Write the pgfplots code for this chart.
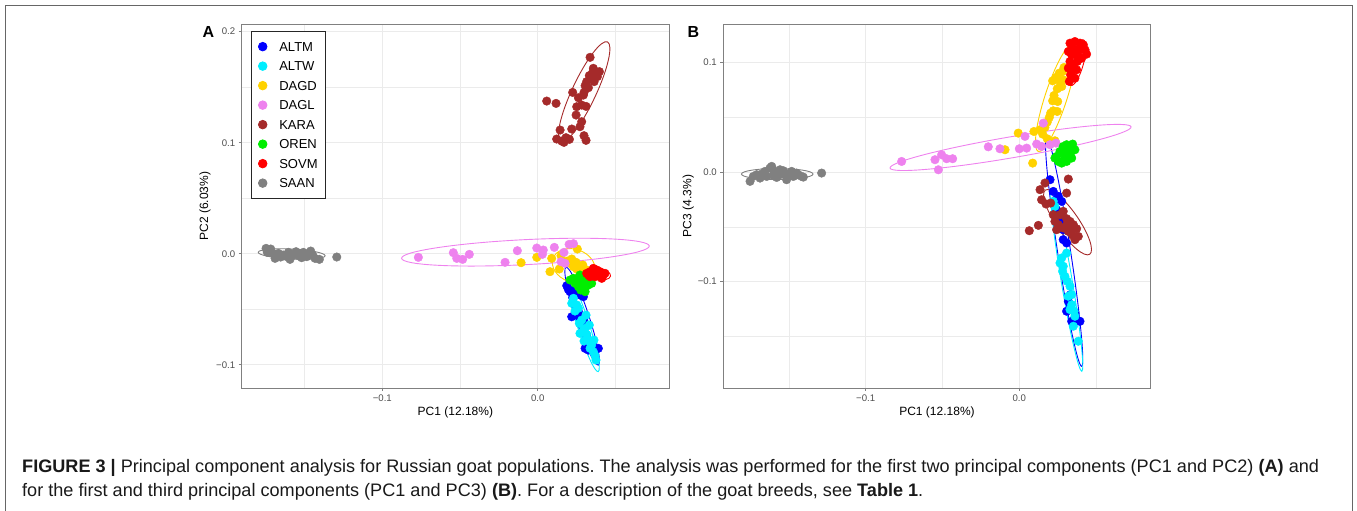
\documentclass[border=0pt]{standalone}
\usepackage{fontspec}
\setmainfont{Liberation Sans}
\usepackage{pgfplots}
\pgfplotsset{compat=1.18}
\frenchspacing
\definecolor{altm}{RGB}{0,0,255}
\definecolor{altw}{RGB}{0,238,255}
\definecolor{dagd}{RGB}{255,210,0}
\definecolor{dagl}{RGB}{238,130,238}
\definecolor{kara}{RGB}{165,42,42}
\definecolor{oren}{RGB}{0,238,0}
\definecolor{sovm}{RGB}{255,0,0}
\definecolor{saan}{RGB}{128,128,128}
\definecolor{ticktext}{RGB}{77,77,77}
\definecolor{gridc}{RGB}{235,235,235}
\tikzset{el/.style={line width=0.9pt}}
\pgfplotsset{
  pcastyle/.style={
    scale only axis, height=364pt,
    axis line style={black!50, line width=0.8pt},
    tick style={black!50, line width=0.6pt},
    major tick length=3pt, minor tick length=0pt,
    tick align=outside, xtick pos=bottom, ytick pos=left,
    grid=both,
    major grid style={gridc, line width=1.1pt},
    minor grid style={gridc, line width=0.55pt},
    ticklabel style={font=\fontsize{9.6}{9.6}\selectfont, text=ticktext},
    xtick={-0.1,0}, xticklabels={−0.1,0.0},
    minor xtick={-0.15,-0.05,0.05},
    label style={font=\fontsize{12}{12}\selectfont},
    xlabel style={at={(axis description cs:0.5,0)}, anchor=base, yshift=-28pt},
    every axis plot/.append style={only marks, mark=*, mark size=4.3pt},
    clip=true,
  },
}

\begin{document}
\begin{tikzpicture}[x=1pt,y=1pt]
\path[use as bounding box] (0,0) rectangle (1357,511);
\draw[black!60, line width=1pt] (5,-5) -- (5,505) -- (1352,505) -- (1352,-5);

% ---------------- Panel A ----------------
\begin{axis}[pcastyle, at={(241.7pt,123pt)}, anchor=south west, width=427.3pt,
  xmin=-0.19048, xmax=0.08449, ymin=-0.12099, ymax=0.20694,
  ytick={-0.1,0,0.1,0.2}, yticklabels={−0.1,0.0,0.1,0.2},
  minor ytick={-0.05,0.05,0.15},
  xlabel={PC1 (12.18\%)}, ylabel={PC2 (6.03\%)},
  ylabel style={at={(axis description cs:-0.0859,0.5)}, anchor=center},
  legend cell align=left,
  legend image code/.code={\draw[#1] plot coordinates {(0pt,0pt)};},
  legend style={at={(0.0211,0.9808)}, anchor=north west, draw=black!85, line width=0.8pt,
    fill=white, font=\fontsize{13}{13}\selectfont, inner xsep=7.3pt, inner ysep=7.6pt,
    row sep=4.2pt, column sep=12.3pt,
    nodes={inner sep=0pt, text height=12.3pt, text depth=3pt}},
]
\addplot[color=altm] table {
0.0197 -0.0321
0.0230 -0.0327
0.0208 -0.0342
0.0255 -0.0357
0.0272 -0.0372
0.0294 -0.0387
0.0225 -0.0396
0.0240 -0.0462
0.0219 -0.0568
0.0251 -0.0553
0.0272 -0.0583
0.0262 -0.0523
0.0294 -0.0598
0.0305 -0.0853
0.0326 -0.0868
0.0390 -0.0853
0.0358 -0.0838
0.0315 -0.0733
0.0283 -0.0643
0.0187 -0.0288
};
\addlegendentry{ALTM}
\addplot[color=altw] table {
0.0230 -0.0402
0.0219 -0.0447
0.0251 -0.0462
0.0240 -0.0517
0.0268 -0.0628
0.0294 -0.0688
0.0315 -0.0727
0.0326 -0.0778
0.0347 -0.0823
0.0358 -0.0883
0.0369 -0.0919
0.0337 -0.0853
0.0305 -0.0673
0.0283 -0.0598
0.0262 -0.0492
0.0272 -0.0718
0.0298 -0.0787
0.0362 -0.0778
0.0375 -0.0958
0.0332 -0.0643
0.0311 -0.0553
};
\addlegendentry{ALTW}
\addplot[color=dagd] table {
-0.0107 -0.0081
-0.0006 -0.0033
0.0079 -0.0162
0.0090 -0.0042
0.0139 -0.0138
0.0150 -0.0018
0.0255 0.0042
0.0208 -0.0087
0.0230 -0.0117
0.0251 -0.0138
0.0277 -0.0168
0.0290 -0.0102
0.0219 -0.0048
0.0247 -0.0078
0.0191 -0.0066
0.0268 -0.0198
0.0305 -0.0210
0.0315 -0.0147
};
\addlegendentry{DAGD}
\addplot[color=dagl] table {
-0.0768 -0.0033
-0.0543 0.0009
-0.0521 -0.0042
-0.0483 -0.0051
-0.0440 -0.0006
-0.0210 -0.0078
-0.0131 0.0027
-0.0006 0.0051
0.0030 -0.0006
0.0036 0.0033
0.0107 0.0057
0.0150 -0.0072
0.0176 -0.0087
0.0202 0.0084
0.0230 0.0090
0.0169 0.0012
};
\addlegendentry{DAGL}
\addplot[color=kara] table {
0.0058 0.1375
0.0118 0.1354
0.0337 0.1769
0.0358 0.1670
0.0369 0.1625
0.0347 0.1580
0.0315 0.1550
0.0305 0.1514
0.0326 0.1495
0.0363 0.1550
0.0384 0.1595
0.0332 0.1604
0.0294 0.1429
0.0225 0.1453
0.0251 0.1324
0.0283 0.1339
0.0311 0.1327
0.0262 0.1405
0.0283 0.1189
0.0272 0.1144
0.0298 0.1063
0.0311 0.1021
0.0144 0.1114
0.0122 0.1033
0.0154 0.1015
0.0182 0.1045
0.0204 0.1030
0.0219 0.1123
0.0169 0.1003
0.0298 0.1453
0.0354 0.1634
0.0397 0.1640
0.0247 0.1249
};
\addlegendentry{KARA}
\addplot[color=oren] table {
0.0230 -0.0222
0.0251 -0.0252
0.0272 -0.0192
0.0283 -0.0282
0.0305 -0.0312
0.0315 -0.0252
0.0337 -0.0222
0.0262 -0.0297
0.0294 -0.0237
0.0240 -0.0267
0.0326 -0.0282
0.0277 -0.0327
0.0305 -0.0342
0.0347 -0.0267
0.0208 -0.0237
0.0290 -0.0207
};
\addlegendentry{OREN}
\addplot[color=sovm] table {
0.0315 -0.0177
0.0337 -0.0162
0.0358 -0.0132
0.0380 -0.0147
0.0401 -0.0162
0.0423 -0.0192
0.0412 -0.0222
0.0369 -0.0207
0.0337 -0.0207
0.0390 -0.0186
0.0433 -0.0177
0.0347 -0.0186
0.0375 -0.0168
0.0405 -0.0198
0.0326 -0.0192
};
\addlegendentry{SOVM}
\addplot[color=saan] table {
-0.1748 0.0048
-0.1718 0.0042
-0.1740 0.0012
-0.1690 -0.0042
-0.1669 0.0003
-0.1637 -0.0012
-0.1604 0.0012
-0.1594 -0.0051
-0.1572 -0.0006
-0.1540 -0.0018
-0.1508 0.0012
-0.1486 -0.0027
-0.1461 0.0024
-0.1448 -0.0012
-0.1433 -0.0042
-0.1405 -0.0051
-0.1293 -0.0030
-0.1701 0.0000
-0.1654 -0.0030
-0.1555 0.0018
-0.1519 -0.0036
-0.1619 -0.0024
-0.1583 -0.0018
-0.1476 0.0000
-0.1497 -0.0012
-0.1680 -0.0018
};
\addlegendentry{SAAN}
% ellipses
\draw[el, altm, rotate around={-71.7:(axis cs:0.0286,-0.0563)}] (axis cs:0.0286,-0.0563) ellipse [x radius=51.5pt, y radius=6.5pt];
\draw[el, altw, rotate around={-72.2:(axis cs:0.0293,-0.0642)}] (axis cs:0.0293,-0.0642) ellipse [x radius=49pt, y radius=6pt];
\draw[el, dagd, rotate around={-20:(axis cs:0.0232,-0.0109)}] (axis cs:0.0232,-0.0109) ellipse [x radius=22pt, y radius=16.5pt];
\draw[el, dagl, rotate around={2.84:(axis cs:-0.0079,0.0014)}] (axis cs:-0.0079,0.0014) ellipse [x radius=124pt, y radius=12.5pt];
\draw[el, kara, rotate around={64.9:(axis cs:0.0299,0.1459)}] (axis cs:0.0299,0.1459) ellipse [x radius=55pt, y radius=12pt];
\draw[el, oren] (axis cs:0.029,-0.027) ellipse [x radius=9pt, y radius=7pt];
\draw[el, sovm, rotate around={-10:(axis cs:0.038,-0.018)}] (axis cs:0.038,-0.018) ellipse [x radius=14pt, y radius=6pt];
\draw[el, saan, rotate around={-3:(axis cs:-0.1583,-0.0003)}] (axis cs:-0.1583,-0.0003) ellipse [x radius=33.5pt, y radius=5pt];
\end{axis}

% ---------------- Panel B ----------------
\begin{axis}[pcastyle, at={(723.3pt,123pt)}, anchor=south west, width=427.4pt,
  xmin=-0.19271, xmax=0.08555, ymin=-0.19735, ymax=0.13534,
  ytick={-0.1,0,0.1}, yticklabels={−0.1,0.0,0.1},
  minor ytick={-0.15,-0.05,0.05},
  xlabel={PC1 (12.18\%)}, ylabel={PC3 (4.3\%)},
  ylabel style={at={(axis description cs:-0.0819,0.5)}, anchor=center},
]
\addplot[color=altm] table {
0.0200 -0.0070
0.0221 -0.0177
0.0254 -0.0222
0.0276 -0.0268
0.0243 -0.0344
0.0265 -0.0435
0.0286 -0.0527
0.0286 -0.0618
0.0308 -0.0648
0.0308 -0.1272
0.0341 -0.1364
0.0395 -0.1364
0.0362 -0.1288
0.0319 -0.1181
0.0334 -0.1120
0.0304 -0.0451
0.0239 -0.0253
0.0378 -0.1358
};
\addplot[color=altw] table {
0.0221 -0.0268
0.0232 -0.0314
0.0276 -0.0785
0.0308 -0.0740
0.0286 -0.0861
0.0297 -0.0953
0.0330 -0.1044
0.0319 -0.1135
0.0341 -0.1212
0.0362 -0.1318
0.0352 -0.1409
0.0384 -0.1546
0.0330 -0.1257
0.0341 -0.1120
0.0265 -0.0831
0.0312 -0.0998
0.0282 -0.0907
0.0356 -0.1272
};
\addplot[color=dagd] table {
-0.0093 0.0204
-0.0007 0.0356
0.0087 0.0082
0.0095 0.0371
0.0135 0.0387
0.0167 0.0408
0.0182 0.0457
0.0195 0.0499
0.0204 0.0539
0.0221 0.0560
0.0247 0.0554
0.0250 0.0645
0.0217 0.0651
0.0226 0.0700
0.0247 0.0761
0.0265 0.0822
0.0217 0.0834
0.0239 0.0865
0.0260 0.0904
0.0282 0.0919
0.0286 0.0843
0.0276 0.0782
0.0291 0.0956
0.0232 0.0286
0.0182 0.0304
0.0152 0.0347
};
\addplot[color=dagl] table {
-0.0766 0.0097
-0.0549 0.0113
-0.0506 0.0158
-0.0527 0.0021
-0.0473 0.0122
-0.0434 0.0122
-0.0202 0.0231
-0.0126 0.0213
0.0000 0.0213
0.0048 0.0219
0.0037 0.0326
0.0113 0.0256
0.0156 0.0447
0.0145 0.0234
0.0200 0.0250
0.0239 0.0265
};
\addplot[color=kara] table {
0.0065 -0.0536
0.0124 -0.0487
0.0167 -0.0100
0.0319 -0.0064
0.0135 -0.0161
0.0308 -0.0192
0.0145 -0.0253
0.0174 -0.0292
0.0204 -0.0283
0.0221 -0.0390
0.0265 -0.0390
0.0286 -0.0359
0.0308 -0.0426
0.0330 -0.0451
0.0352 -0.0481
0.0373 -0.0518
0.0384 -0.0588
0.0347 -0.0578
0.0362 -0.0618
0.0319 -0.0542
0.0286 -0.0511
0.0254 -0.0481
0.0232 -0.0451
0.0308 -0.0487
0.0341 -0.0527
0.0243 -0.0527
};
\addplot[color=oren] table {
0.0243 0.0143
0.0265 0.0189
0.0286 0.0234
0.0308 0.0250
0.0347 0.0256
0.0362 0.0204
0.0330 0.0158
0.0297 0.0128
0.0276 0.0082
0.0308 0.0097
0.0341 0.0128
0.0254 0.0097
0.0319 0.0204
0.0286 0.0174
0.0232 0.0128
};
\addplot[color=sovm] table {
0.0330 0.1178
0.0362 0.1193
0.0395 0.1178
0.0417 0.1163
0.0438 0.1078
0.0319 0.1102
0.0341 0.1072
0.0384 0.1102
0.0406 0.1041
0.0330 0.1011
0.0352 0.0965
0.0373 0.0935
0.0334 0.0889
0.0362 0.0858
0.0326 0.0828
0.0395 0.1132
0.0347 0.1132
0.0378 0.1011
0.0319 0.0950
0.0369 0.1072
0.0428 0.1117
0.0341 0.0919
};
\addplot[color=saan] table {
-0.1753 -0.0085
-0.1710 -0.0024
-0.1678 -0.0018
-0.1645 -0.0040
-0.1623 0.0037
-0.1612 0.0052
-0.1591 0.0006
-0.1558 -0.0024
-0.1536 0.0012
-0.1515 -0.0070
-0.1493 -0.0009
-0.1471 -0.0040
-0.1450 -0.0009
-0.1417 -0.0040
-0.1406 -0.0046
-0.1287 -0.0009
-0.1732 -0.0040
-0.1656 0.0006
-0.1580 -0.0049
-0.1526 -0.0018
-0.1482 0.0006
-0.1602 -0.0030
-0.1688 -0.0055
-0.1439 -0.0024
-0.1558 0.0021
};
% ellipses
\draw[el, altm, rotate around={-81.3:(axis cs:0.0292,-0.0732)}] (axis cs:0.0292,-0.0732) ellipse [x radius=115.5pt, y radius=6.5pt];
\draw[el, altw, rotate around={-80.5:(axis cs:0.0309,-0.0999)}] (axis cs:0.0309,-0.0999) ellipse [x radius=91.2pt, y radius=5.5pt];
\draw[el, dagd, rotate around={71.95:(axis cs:0.0238,0.0679)}] (axis cs:0.0238,0.0679) ellipse [x radius=56.5pt, y radius=11pt];
\draw[el, dagl, rotate around={9.7:(axis cs:-0.0057,0.0225)}] (axis cs:-0.0057,0.0225) ellipse [x radius=122.3pt, y radius=10.5pt];
\draw[el, kara, rotate around={-55.3:(axis cs:0.0314,-0.0458)}] (axis cs:0.0314,-0.0458) ellipse [x radius=39pt, y radius=11pt];
\draw[el, oren, rotate around={30:(axis cs:0.030,0.017)}] (axis cs:0.030,0.017) ellipse [x radius=9pt, y radius=7pt];
\draw[el, sovm, rotate around={74.6:(axis cs:0.0376,0.1)}] (axis cs:0.0376,0.1) ellipse [x radius=23.7pt, y radius=6.5pt];
\draw[el, saan] (axis cs:-0.1576,-0.0018) ellipse [x radius=35.8pt, y radius=5.5pt];
\end{axis}

% panel letters
\node[anchor=base, font=\bfseries\fontsize{16}{16}\selectfont] at (208.3,473.3) {A};
\node[anchor=base, font=\bfseries\fontsize{16}{16}\selectfont] at (693.3,473.3) {B};

% caption
\node[anchor=base west, inner sep=0pt, text=black!90, font=\fontsize{18.1}{18}\selectfont] at (22,38.7)
 {\textbf{FIGURE 3 |} Principal component analysis for Russian goat populations. The analysis was performed for the first two principal components (PC1 and PC2) \textbf{(A)} and};
\node[anchor=base west, inner sep=0pt, text=black!90, font=\fontsize{18.1}{18}\selectfont] at (22,14.3)
 {for the first and third principal components (PC1 and PC3) \textbf{(B)}. For a description of the goat breeds, see \textbf{Table 1}.};
\end{tikzpicture}
\end{document}
